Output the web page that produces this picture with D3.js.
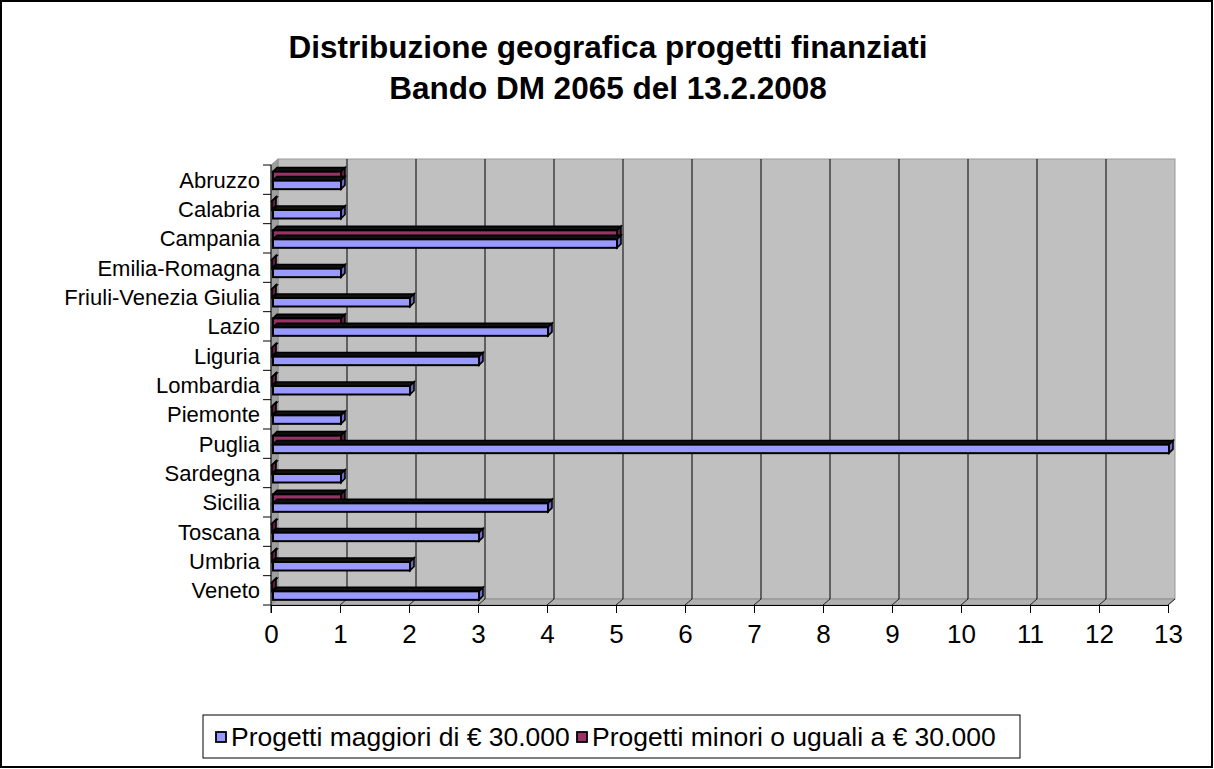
<!DOCTYPE html>
<html><head><meta charset="utf-8">
<script src="https://cdn.jsdelivr.net/npm/d3@7"></script>
<style>
html,body{margin:0;padding:0;background:#fff;}
svg{display:block;font-family:"Liberation Sans",Arial,sans-serif;}
</style></head>
<body><svg id="c" width="1214" height="769"></svg>
<script>
const regions = ["Abruzzo","Calabria","Campania","Emilia-Romagna","Friuli-Venezia Giulia","Lazio","Liguria","Lombardia","Piemonte","Puglia","Sardegna","Sicilia","Toscana","Umbria","Veneto"];
const maggiori = [1,1,5,1,2,4,3,2,1,13,1,4,3,2,3];
const minori   = [1,0,5,0,0,1,0,0,0,1,0,1,0,0,0];
const xTicks = [0,1,2,3,4,5,6,7,8,9,10,11,12,13];
const seriesNames = ["Progetti maggiori di € 30.000","Progetti minori o uguali a € 30.000"];
const titleLines = ["Distribuzione geografica progetti finanziati","Bando DM 2065 del 13.2.2008"];
const colors = {maggiori:"#9999ff", minori:"#993366"};

const svg = d3.select("#c");
svg.append("rect").attr("x",1).attr("y",1).attr("width",1211).attr("height",766)
  .attr("fill","#fff").attr("stroke","#000").attr("stroke-width",2);

svg.append("g").selectAll("text").data(titleLines).join("text")
  .attr("x",608).attr("y",(d,i)=>58+i*41).attr("text-anchor","middle")
  .attr("font-size",31.5).attr("font-weight","bold").text(d=>d);

const x0=271, x1=1168, yTop=165, yBot=605, dx=7, dy=-6;
const x = d3.scaleLinear().domain([0,13]).range([x0,x1]);
const y = d3.scaleBand().domain(regions).range([yTop,yBot]);

svg.append("rect").attr("x",x0+dx).attr("y",yTop+dy).attr("width",x1-x0).attr("height",yBot-yTop)
  .attr("fill","#c0c0c0").attr("stroke","#999").attr("stroke-width",1);
svg.append("polygon").attr("points",[[x0,yTop],[x0+dx,yTop+dy],[x0+dx,yBot+dy],[x0,yBot]].join(" "))
  .attr("fill","#a0a0a0").attr("stroke","#888").attr("stroke-width",0.8);
svg.append("polygon").attr("points",[[x0,yBot],[x0+dx,yBot+dy],[x1+dx,yBot+dy],[x1,yBot]].join(" "))
  .attr("fill","#b0b0b0").attr("stroke","#888").attr("stroke-width",0.8);
svg.append("g").selectAll("line").data(xTicks.slice(1,-1)).join("line")
  .attr("x1",d=>x(d)+dx).attr("x2",d=>x(d)+dx).attr("y1",yTop+dy).attr("y2",yBot+dy)
  .attr("stroke","#000").attr("stroke-width",1);
svg.append("g").selectAll("line").data(xTicks.slice(1)).join("line")
  .attr("x1",d=>x(d)).attr("x2",d=>x(d)+dx).attr("y1",yBot).attr("y2",yBot+dy)
  .attr("stroke","#000").attr("stroke-width",0.8);

const xAxis = d3.axisBottom(x).tickValues(xTicks).tickSize(8).tickPadding(11.5).tickFormat(d3.format("d"));
const gx = svg.append("g").attr("transform",`translate(0,${yBot})`).call(xAxis);
gx.select(".domain").attr("stroke","#000");
gx.selectAll(".tick line").attr("stroke","#000");
gx.selectAll("text").attr("font-size",26).attr("fill","#000").attr("font-family","Liberation Sans, Arial, sans-serif");

const gy = svg.append("g").attr("transform",`translate(${x0},0)`);
gy.append("line").attr("x1",0).attr("x2",0).attr("y1",yTop).attr("y2",yBot+8).attr("stroke","#000");
const bounds = d3.range(regions.length+1).map(i=>yTop+i*y.step());
gy.selectAll("line.t").data(bounds).join("line").attr("class","t")
  .attr("x1",-8).attr("x2",0).attr("y1",d=>d).attr("y2",d=>d).attr("stroke","#000");
gy.selectAll("text").data(regions).join("text")
  .attr("x",-11).attr("y",d=>y(d)+y.bandwidth()/2+8).attr("text-anchor","end")
  .attr("font-size",22).text(d=>d);

const bh=8.5, d3d=4;
function bar(g, v, yy, col, dark){
  const xa = x(0)+2, xb = x(v)+1;
  const gg = g.append("g");
  gg.append("polygon").attr("points",[[xa,yy],[xa+d3d,yy-d3d],[xb+d3d,yy-d3d],[xb,yy]].join(" "))
    .attr("fill","#111").attr("stroke","#000").attr("stroke-width",1.6);
  gg.append("polygon").attr("points",[[xb,yy],[xb+d3d,yy-d3d],[xb+d3d,yy+bh-d3d],[xb,yy+bh]].join(" "))
    .attr("fill",dark).attr("stroke","#000").attr("stroke-width",1.6);
  if (v>0) gg.append("rect").attr("x",xa).attr("y",yy).attr("width",xb-xa).attr("height",bh)
    .attr("fill",col).attr("stroke","#000").attr("stroke-width",2);
}
const gb = svg.append("g");
regions.forEach((r,i)=>{
  const c = y(r)+y.bandwidth()/2;
  bar(gb, minori[i], c-8, colors.minori, "#5c1f3d");
  bar(gb, maggiori[i], c+1, colors.maggiori, "#6b6bcc");
});

const lg = svg.append("g");
lg.append("rect").attr("x",203).attr("y",715).attr("width",817).attr("height",43)
  .attr("fill","#fff").attr("stroke","#000").attr("stroke-width",1);
const litems = [{n:seriesNames[0],c:colors.maggiori,x:216},{n:seriesNames[1],c:colors.minori,x:577}];
litems.forEach(it=>{
  lg.append("rect").attr("x",it.x).attr("y",732).attr("width",10).attr("height",10)
    .attr("fill",it.c).attr("stroke","#000").attr("stroke-width",1.8);
  lg.append("text").attr("x",it.x+15).attr("y",746).attr("font-size",26.5).text(it.n);
});
</script></body></html>
